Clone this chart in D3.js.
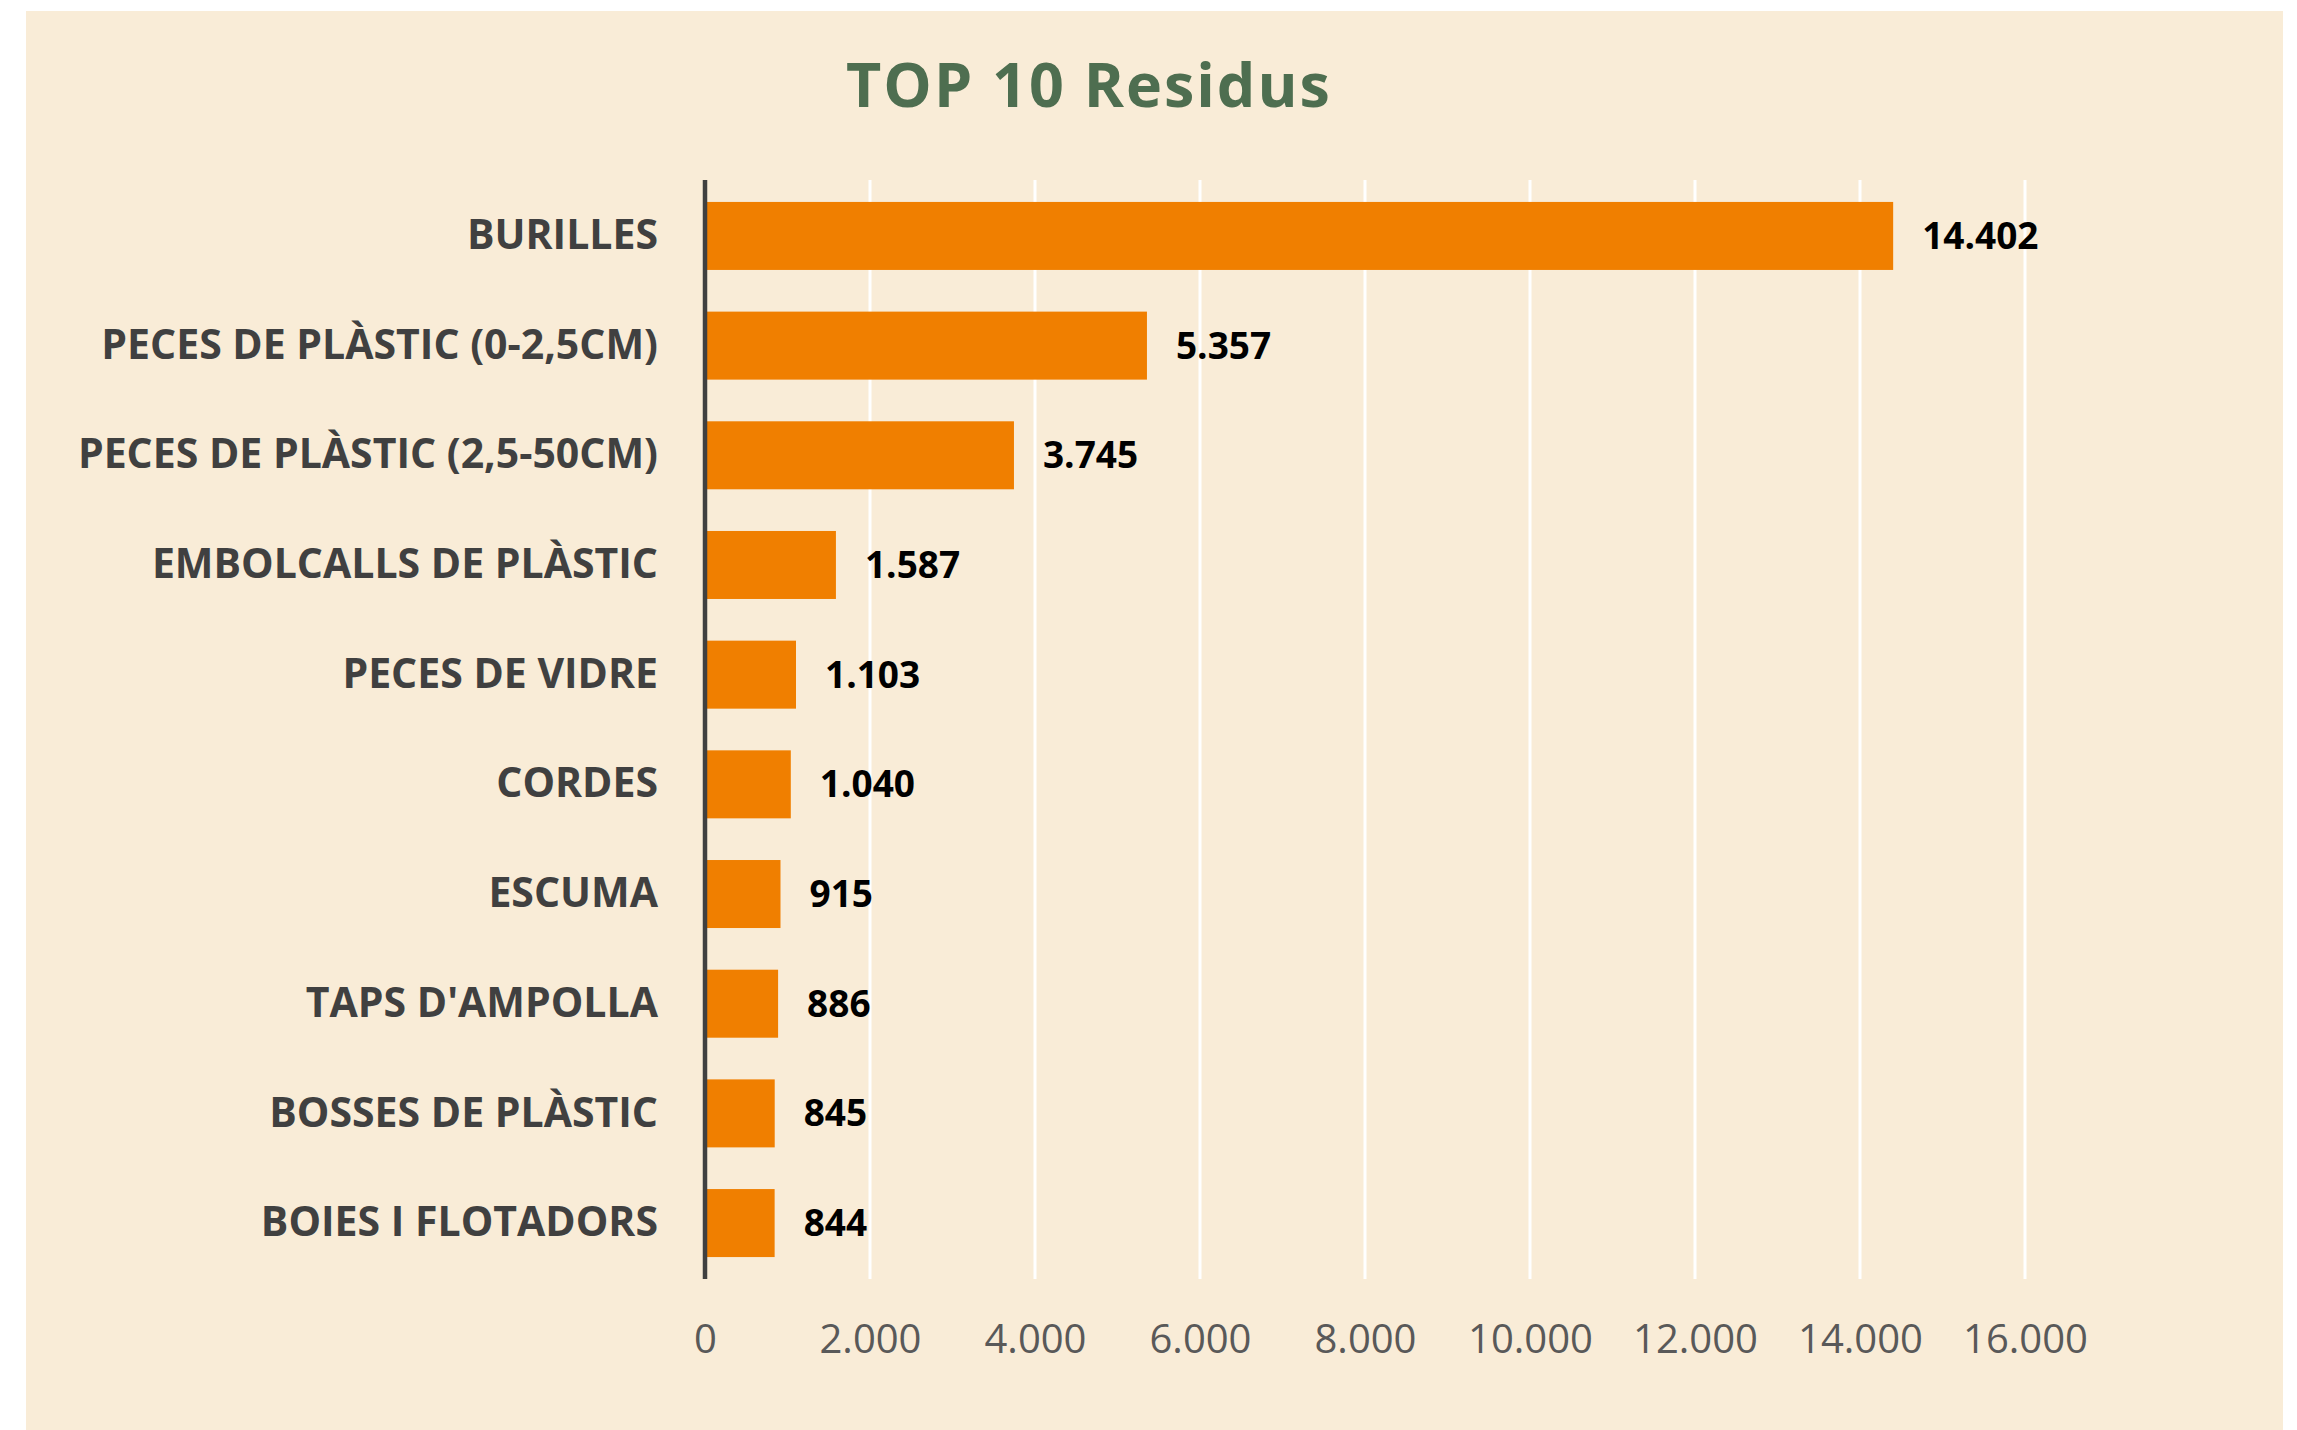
<!DOCTYPE html>
<html lang="ca">
<head>
<meta charset="utf-8">
<title>TOP 10 Residus</title>
<script src="https://cdn.jsdelivr.net/npm/d3@7/dist/d3.min.js"></script>
<style>
    html, body { margin: 0; padding: 0; background: #fff; }
    svg { display: block; }
</style>
</head>
<body>
<div id="chart"></div>
<script>
// Data
const categories = [
    'BURILLES',
    'PECES DE PLÀSTIC (0-2,5CM)',
    'PECES DE PLÀSTIC (2,5-50CM)',
    'EMBOLCALLS DE PLÀSTIC',
    'PECES DE VIDRE',
    'CORDES',
    'ESCUMA',
    "TAPS D'AMPOLLA",
    'BOSSES DE PLÀSTIC',
    'BOIES I FLOTADORS'
];
const counts = [14402, 5357, 3745, 1587, 1103, 1040, 915, 886, 845, 844];
const xTicks = [0, 2000, 4000, 6000, 8000, 10000, 12000, 14000, 16000];
const chartTitle = 'TOP 10 Residus';

const W = 2297;
const H = 1430;
const plot = {left: 705, right: 2025, top: 180, bottom: 1279};

// Catalan number format: dot as thousands separator
const ca = d3.formatLocale({decimal: ',', thousands: '.', grouping: [3], currency: ['', ' €']});
const fmt = ca.format(',d');

const rows = categories.map((c, i) => ({name: c, value: counts[i]}));

const svg = d3.select('#chart')
.append('svg')
.attr('width', W)
.attr('height', H);

// beige card
svg.append('rect')
.attr('x', 26)
.attr('y', 11)
.attr('width', 2257)
.attr('height', H - 11)
.attr('fill', '#f9ecd7');

svg.append('text')
.attr('x', 846)
.attr('y', 107)
.attr('font-family', '"Open Sans", Lato, sans-serif')
.attr('font-weight', 700)
.attr('font-size', 61)
.attr('letter-spacing', 2)
.attr('fill', '#4e6e50')
.text(chartTitle);

const x = d3.scaleLinear().domain([0, 16000]).range([plot.left, plot.right]);
const y = d3.scaleBand()
.domain(categories)
.range([plot.top, plot.bottom])
.paddingInner(0.38)
.paddingOuter(0.2);

// white vertical gridlines
svg.append('g')
.selectAll('line')
.data(xTicks.filter(t => t > 0))
.enter()
.append('line')
.attr('x1', d => x(d))
.attr('x2', d => x(d))
.attr('y1', plot.top)
.attr('y2', plot.bottom)
.attr('stroke', '#ffffff')
.attr('stroke-width', 3);

// bars
svg.append('g')
.selectAll('rect')
.data(rows)
.enter()
.append('rect')
.attr('x', x(0))
.attr('y', d => y(d.name))
.attr('width', d => x(d.value) - x(0))
.attr('height', y.bandwidth())
.attr('fill', '#f07f00');

// value labels
svg.append('g')
.selectAll('text')
.data(rows)
.enter()
.append('text')
.attr('x', d => x(d.value) + 29)
.attr('y', d => y(d.name) + y.bandwidth() / 2)
.attr('dy', '0.35em')
.attr('font-family', '"Open Sans", sans-serif')
.attr('font-weight', 700)
.attr('font-size', 37)
.attr('fill', '#000')
.text(d => fmt(d.value));

// category axis
const yAxis = svg.append('g')
.attr('transform', `translate(${plot.left},0)`)
.call(d3.axisLeft(y).tickSize(0).tickPadding(47));
yAxis.select('.domain')
.attr('stroke', '#404040')
.attr('stroke-width', 4.5)
.attr('d', `M0,${plot.top}V${plot.bottom}`);
yAxis.selectAll('text')
.attr('font-family', '"Open Sans", sans-serif')
.attr('font-weight', 700)
.attr('font-size', 41)
.attr('fill', '#404040');

// value axis, labels only
const xAxis = svg.append('g')
.attr('transform', `translate(0,${plot.bottom})`)
.call(d3.axisBottom(x).tickValues(xTicks).tickFormat(fmt).tickSize(0).tickPadding(46));
xAxis.select('.domain').remove();
xAxis.selectAll('text')
.attr('font-family', '"Open Sans", sans-serif')
.attr('font-size', 40)
.attr('fill', '#595959');
</script>
</body>
</html>
